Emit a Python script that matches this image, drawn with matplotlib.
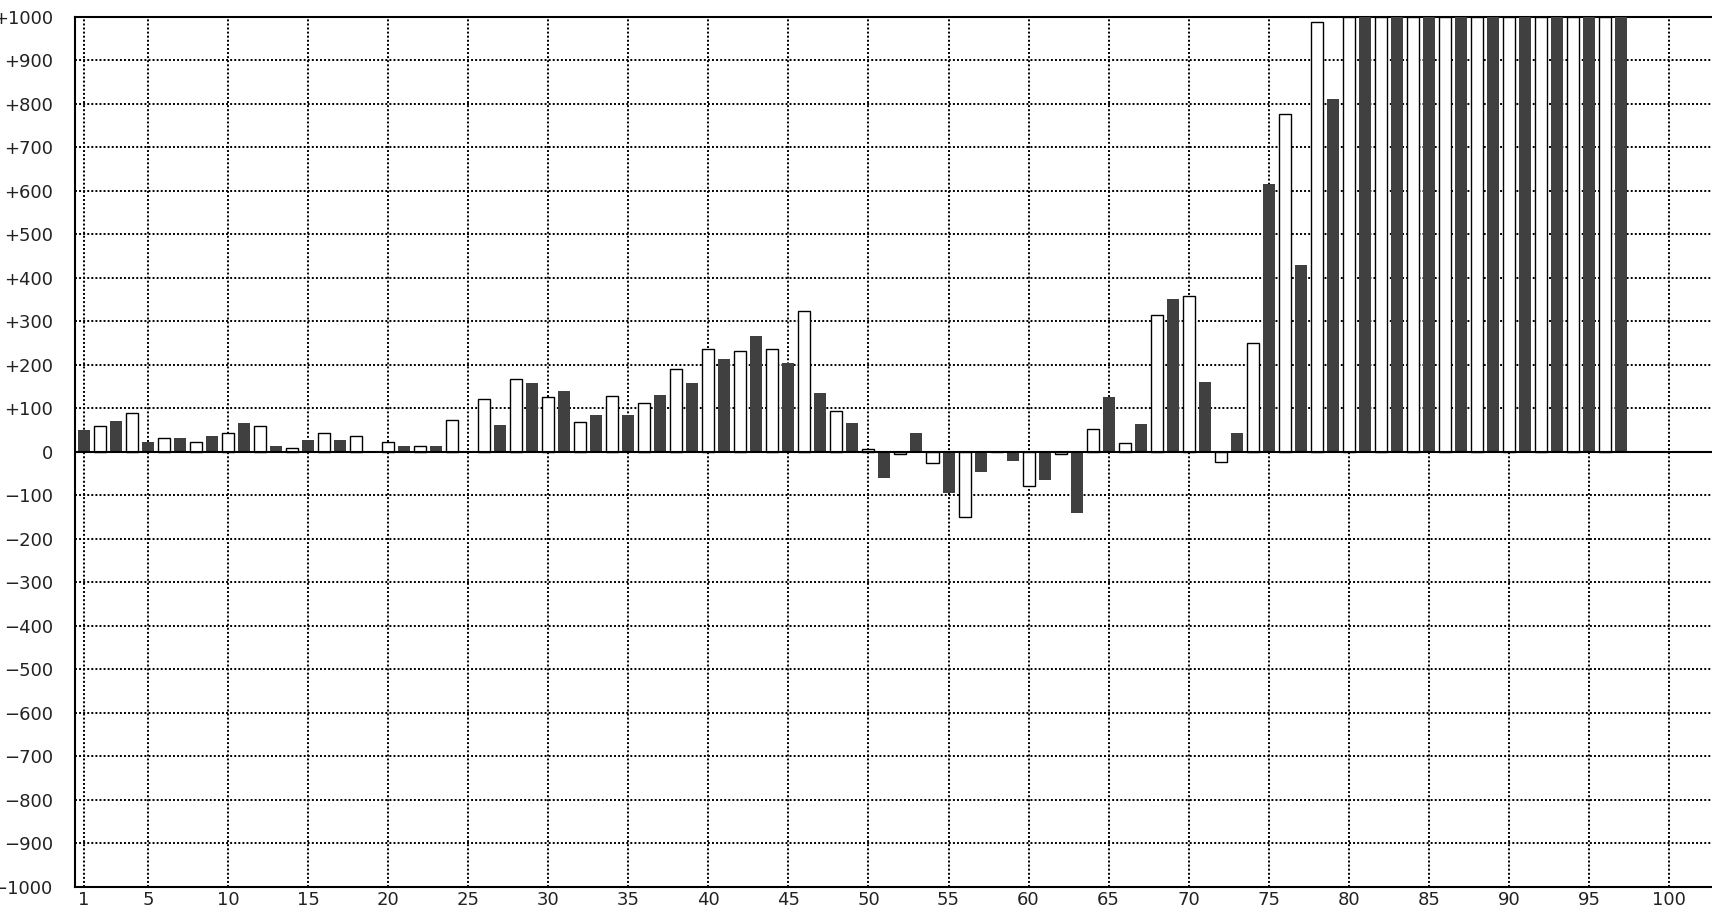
import matplotlib
matplotlib.use("Agg")
import matplotlib.pyplot as plt

# values, one per x position (1..97); >1000 clipped at the top
x_pos = list(range(1, 98))
values = [51, 60, 70, 88, 23, 32, 32, 22, 37, 42,
          65, 59, 14, 8, 28, 42, 28, 37, 0, 22,
          14, 13, 14, 74, 0, 120, 62, 166, 158, 125,
          140, 69, 85, 129, 85, 111, 131, 189, 158, 235,
          214, 231, 265, 235, 205, 323, 135, 93, 67, 6,
          -60, -5, 44, -25, -94, -149, -46, 0, -22, -78,
          -65, -6, -141, 52, 125, 20, 63, 314, 352, 359,
          161, -24, 44, 250, 615, 777, 429, 987, 810, 1000,
          1000, 1000, 1000, 1000, 1000, 1000, 1000, 1000, 1000, 1000,
          1000, 1000, 1000, 1000, 1000, 1000, 1000]
x_ticks = [1] + list(range(5, 101, 5))
y_ticks = list(range(-1000, 1001, 100))
y_labels = ["0" if v == 0 else ("%+d" % v).replace("-", "\u2212") for v in y_ticks]

dark = "#404040"

fig = plt.figure(figsize=(17.12, 9.08), dpi=100)
ax = fig.add_axes([75 / 1712, 21.3 / 908, 1 - 75 / 1712, 1 - 38 / 908])

# odd positions dark filled, even positions white with black outline
for x, v in zip(x_pos, values):
    if x % 2 == 1:
        ax.bar(x, v, width=0.75, color=dark, edgecolor=dark, linewidth=0, zorder=3)
    else:
        ax.bar(x, v, width=0.75, color="white", edgecolor="black", linewidth=1.0, zorder=3)

ax.axhline(0, color="black", linewidth=1.5, zorder=4)

ax.set_xlim(0.4375, 102.69)
ax.set_ylim(-1000, 1000)
ax.set_xticks(x_ticks)
ax.set_yticks(y_ticks)
ax.set_yticklabels(y_labels)
ax.grid(True, color="black", linestyle=(0, (1, 1.1)), linewidth=1.4, zorder=0)
ax.set_axisbelow(True)
ax.tick_params(length=0, labelsize=13, labelcolor="#222222")
ax.tick_params(axis="y", pad=16)
ax.tick_params(axis="x", pad=3)
for s in ["left", "top", "bottom"]:
    ax.spines[s].set_linewidth(1.5)
    ax.spines[s].set_color("black")
ax.spines["right"].set_visible(False)

fig.savefig("out.png", dpi=100)
